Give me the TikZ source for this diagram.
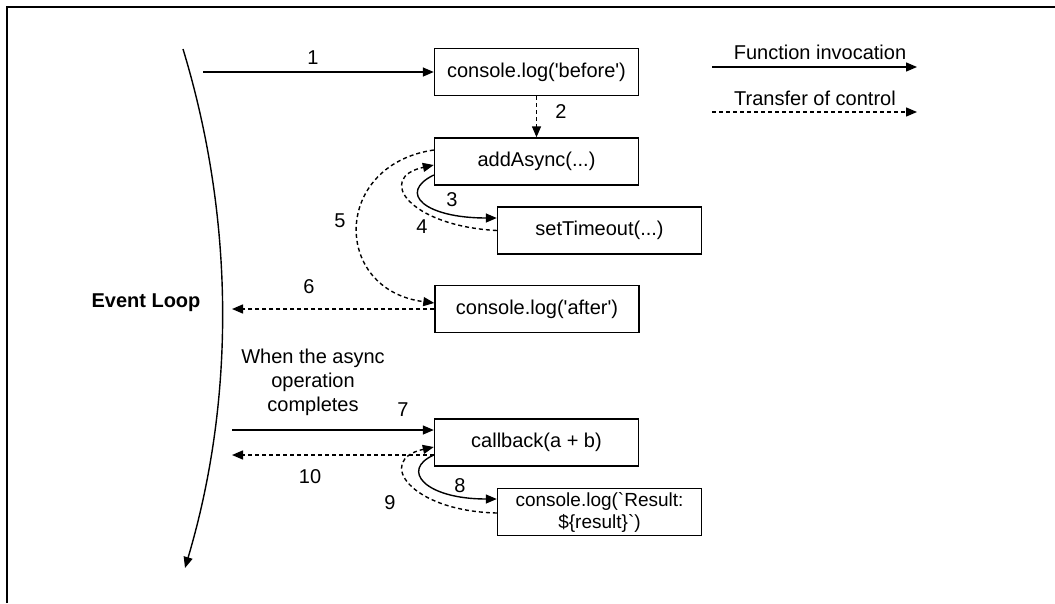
\documentclass[tikz,border=0pt]{standalone}
\usepackage{fontspec}
\setmainfont{Liberation Sans}[Ligatures=TeXOff]
\usetikzlibrary{arrows.meta,positioning}

\tikzset{
  fbox/.style={draw, line width=1.4pt, minimum width=204pt, minimum height=47pt, inner sep=0pt},
  call/.style={line width=1.4pt, -{Triangle[length=11pt,width=9pt]}},
  ctrl/.style={call, dash pattern=on 4pt off 3pt},
  lbl/.style={inner sep=0pt}
}

\begin{document}
\begin{tikzpicture}[x=1pt,y=-1pt,font=\fontsize{20}{23}\selectfont]
  \useasboundingbox (0,0) rectangle (1055,603);
  \draw[line width=2pt] (7,603) -- (7,7) -- (1055,7);

  % event loop
  \draw[call] (183,49) .. controls (235,220) and (235,400) .. (185,568);
  \node[lbl, font=\fontsize{20}{23}\selectfont\bfseries] (loop) at (146,303) {Event Loop};

  % boxes
  \node[fbox] (before) at (536.5,72) {console.log('before')};
  \node[fbox] (addasync) at (536.5,161.5) {addAsync(...)};
  \node[fbox] (timeout) at (599.5,230.5) {setTimeout(...)};
  \node[fbox] (after) at (537,309) {console.log('after')};
  \node[fbox] (callback) at (536.5,442.5) {callback(a + b)};
  \node[fbox, align=center, font=\fontsize{19}{22}\selectfont] (result) at (599.5,512)
    {console.log(`Result:\\\$\{result\}`)};

  \coordinate (s1) at (203,72);
  \coordinate (e6) at (232,309);
  \coordinate (s7) at (232,430);
  \coordinate (e10) at (232,455);

  % arrows
  \draw[call] (s1) -- (before.west);
  \draw[ctrl] (before.south) -- (addasync.north);
  \draw[call] ([yshift=-13.5pt]addasync.west) .. controls (397,193) and (425,218) .. ([yshift=12.5pt]timeout.west);
  \draw[ctrl] (timeout.west) .. controls (410,226) and (375,178) .. ([yshift=-3.5pt]addasync.west);
  \draw[ctrl] ([yshift=11.5pt]addasync.west) .. controls (332,165) and (332,290) .. ([yshift=6pt]after.west);
  \draw[ctrl] (after.west) -- (e6);
  \draw[call] (s7) -- ([yshift=12.5pt]callback.west);
  \draw[ctrl] ([yshift=-12.5pt]callback.west) -- (e10);
  \draw[call] ([yshift=-12.5pt]callback.west) .. controls (400,470) and (425,499) .. ([yshift=13pt]result.west);
  \draw[ctrl] ([yshift=-1pt]result.west) .. controls (410,511) and (375,460) .. ([yshift=-4.5pt]callback.west);

  % numbers
  \node[lbl] (n1) at (313,58) {1};
  \node[lbl] (n2) at (561,112) {2};
  \node[lbl] (n3) at (452,200) {3};
  \node[lbl] (n4) at (422,227) {4};
  \node[lbl] (n5) at (340,221) {5};
  \node[lbl] (n6) at (309,287) {6};
  \node[lbl] (n7) at (403,410) {7};
  \node[lbl] (n8) at (460,486) {8};
  \node[lbl] (n9) at (390,503) {9};
  \node[lbl] (n10) at (310,477) {10};
  \node[lbl, align=center, font=\fontsize{20}{24}\selectfont] (when) at (313,382)
    {When the async\\operation\\completes};

  % legend
  \coordinate (fa) at (712,67);
  \coordinate (fb) at (917,67);
  \coordinate (ta) at (712,112);
  \coordinate (tb) at (917,112);
  \draw[call] (fa) -- (fb);
  \draw[ctrl] (ta) -- (tb);
  \node[lbl] (flab) at (820,52) {Function invocation};
  \node[lbl] (tlab) at (815,98) {Transfer of control};
\end{tikzpicture}
\end{document}
